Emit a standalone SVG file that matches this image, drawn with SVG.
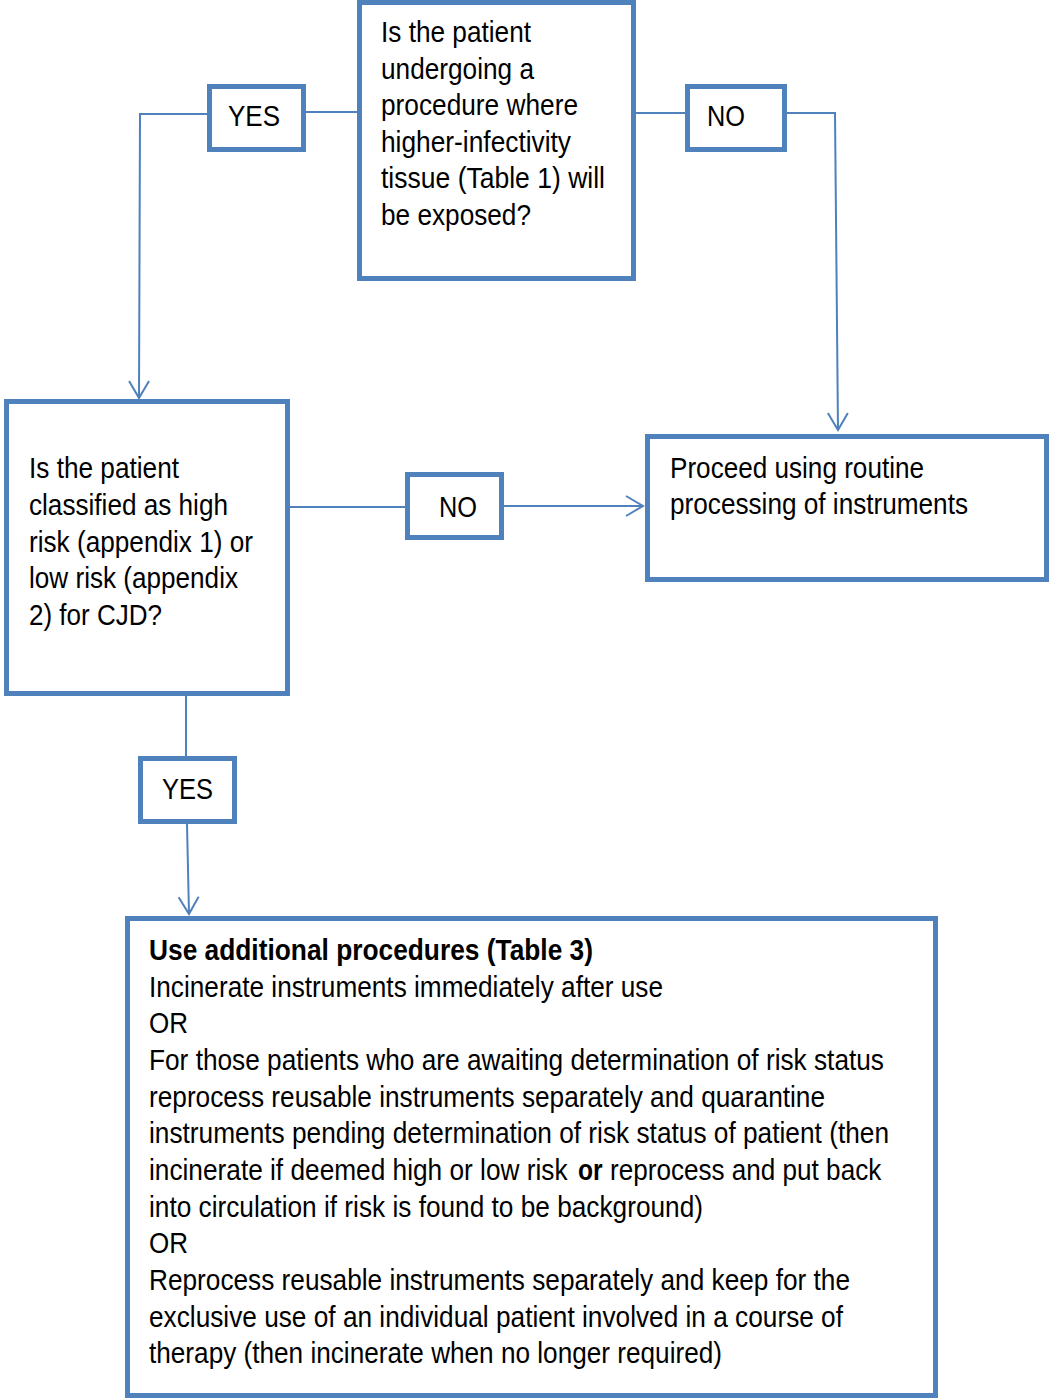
<svg xmlns="http://www.w3.org/2000/svg" width="1049" height="1399" viewBox="0 0 1049 1399">
<style>
.box{fill:#fff;stroke:#4f81bd;stroke-width:5}
.lbl{fill:#fff;stroke:#4f81bd;stroke-width:5}
.t{font-family:"Liberation Sans Narrow","Liberation Sans",Arial,sans-serif;font-size:30px;fill:#000}
.s{font-family:"Liberation Sans",Arial,sans-serif;font-size:30px;fill:#000}
.b{font-weight:bold}
.l{font-family:"Liberation Sans","DejaVu Sans",sans-serif;font-size:29px;fill:#000}
.c{fill:none;stroke:#4f81bd;stroke-width:2}
</style>
<defs>
<marker id="ah" markerUnits="userSpaceOnUse" viewBox="-20 -12 22 24" refX="0" refY="0" markerWidth="22" markerHeight="24" orient="auto">
<path d="M-17,-10 L0,0 L-17,10" fill="none" stroke="#4f81bd" stroke-width="2"/>
</marker>
</defs>
<rect width="1049" height="1399" fill="#fff"/>
<g id="connectors">
<polyline class="c" points="358,112 306,112"/>
<polyline class="c" points="208,114 140,114 139,398" marker-end="url(#ah)"/>
<polyline class="c" points="635,113 686,113"/>
<polyline class="c" points="786,113 835,113 838,430" marker-end="url(#ah)"/>
<polyline class="c" points="289,507 406,507"/>
<polyline class="c" points="503,506 643,506" marker-end="url(#ah)"/>
<polyline class="c" points="186,689 186,757"/>
<polyline class="c" points="187,824 189,914" marker-end="url(#ah)"/>
</g>
<g id="q1">
<rect class="box" x="359.5" y="2.5" width="274" height="276"/>
<text class="t" x="381" y="42" textLength="150" lengthAdjust="spacingAndGlyphs">Is the patient</text>
<text class="t" x="381" y="79" textLength="153" lengthAdjust="spacingAndGlyphs">undergoing a</text>
<text class="t" x="381" y="115" textLength="197" lengthAdjust="spacingAndGlyphs">procedure where</text>
<text class="t" x="381" y="152" textLength="190" lengthAdjust="spacingAndGlyphs">higher-infectivity</text>
<text class="t" x="381" y="188" textLength="224" lengthAdjust="spacingAndGlyphs">tissue (Table 1) will</text>
<text class="t" x="381" y="225" textLength="150" lengthAdjust="spacingAndGlyphs">be exposed?</text>
</g>
<g id="yes1">
<rect class="lbl" x="209.5" y="86.5" width="94" height="63"/>
<text class="l" x="228" y="126" textLength="52" lengthAdjust="spacingAndGlyphs">YES</text>
</g>
<g id="no1">
<rect class="lbl" x="687.5" y="86.5" width="97" height="63"/>
<text class="l" x="707" y="126" textLength="38" lengthAdjust="spacingAndGlyphs">NO</text>
</g>
<g id="q2">
<rect class="box" x="6.5" y="401.5" width="281" height="292"/>
<text class="t" x="29" y="478" textLength="150" lengthAdjust="spacingAndGlyphs">Is the patient</text>
<text class="t" x="29" y="515" textLength="199" lengthAdjust="spacingAndGlyphs">classified as high</text>
<text class="t" x="29" y="552" textLength="224" lengthAdjust="spacingAndGlyphs">risk (appendix 1) or</text>
<text class="t" x="29" y="588" textLength="209" lengthAdjust="spacingAndGlyphs">low risk (appendix</text>
<text class="t" x="29" y="625" textLength="133" lengthAdjust="spacingAndGlyphs">2) for CJD?</text>
</g>
<g id="no2">
<rect class="lbl" x="407.5" y="474.5" width="94" height="63"/>
<text class="l" x="439" y="517" textLength="38" lengthAdjust="spacingAndGlyphs">NO</text>
</g>
<g id="routine">
<rect class="box" x="647.5" y="436.5" width="399" height="143"/>
<text class="t" x="670" y="478" textLength="254" lengthAdjust="spacingAndGlyphs">Proceed using routine</text>
<text class="t" x="670" y="514" textLength="298" lengthAdjust="spacingAndGlyphs">processing of instruments</text>
</g>
<g id="yes2">
<rect class="lbl" x="140.5" y="758.5" width="94" height="63"/>
<text class="l" x="162" y="799" textLength="51" lengthAdjust="spacingAndGlyphs">YES</text>
</g>
<g id="additional">
<rect class="box" x="127.5" y="918.5" width="808" height="477"/>
<text class="t b" x="149" y="960" textLength="444" lengthAdjust="spacingAndGlyphs">Use additional procedures (Table 3)</text>
<text class="t" x="149" y="997" textLength="514" lengthAdjust="spacingAndGlyphs">Incinerate instruments immediately after use</text>
<text class="t" x="149" y="1033" textLength="39" lengthAdjust="spacingAndGlyphs">OR</text>
<text class="t" x="149" y="1070" textLength="735" lengthAdjust="spacingAndGlyphs">For those patients who are awaiting determination of risk status</text>
<text class="t" x="149" y="1107" textLength="676" lengthAdjust="spacingAndGlyphs">reprocess reusable instruments separately and quarantine</text>
<text class="t" x="149" y="1143" textLength="740" lengthAdjust="spacingAndGlyphs">instruments pending determination of risk status of patient (then</text>
<text class="s" transform="translate(149,1180) scale(0.875,1)">incinerate if deemed high or low risk</text>
<text class="s b" transform="translate(578,1180) scale(0.82,1)">or</text>
<text class="s" transform="translate(610,1180) scale(0.87,1)">reprocess and put back</text>
<text class="t" x="149" y="1217" textLength="554" lengthAdjust="spacingAndGlyphs">into circulation if risk is found to be background)</text>
<text class="t" x="149" y="1253" textLength="39" lengthAdjust="spacingAndGlyphs">OR</text>
<text class="t" x="149" y="1290" textLength="701" lengthAdjust="spacingAndGlyphs">Reprocess reusable instruments separately and keep for the</text>
<text class="t" x="149" y="1327" textLength="694" lengthAdjust="spacingAndGlyphs">exclusive use of an individual patient involved in a course of</text>
<text class="t" x="149" y="1363" textLength="573" lengthAdjust="spacingAndGlyphs">therapy (then incinerate when no longer required)</text>
</g>
</svg>
